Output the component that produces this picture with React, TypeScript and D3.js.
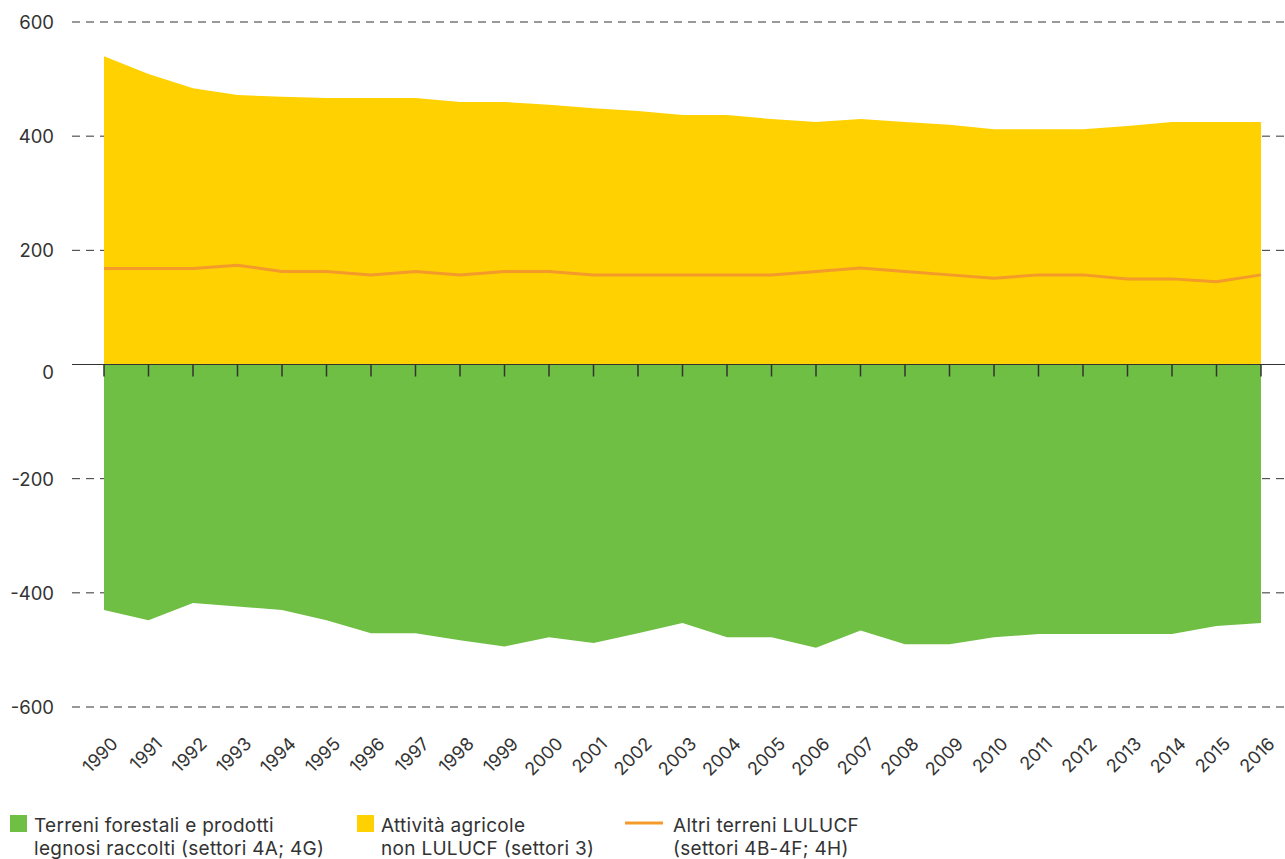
import React from "react";
import * as d3 from "d3";

const years = [1990, 1991, 1992, 1993, 1994, 1995, 1996, 1997, 1998, 1999, 2000, 2001, 2002, 2003, 2004, 2005, 2006, 2007, 2008, 2009, 2010, 2011, 2012, 2013, 2014, 2015, 2016];

// Attività agricole non LULUCF (settori 3)
const agricole = [540, 509, 484, 472, 469, 467, 467, 467, 460, 460, 455, 449, 444, 437, 437, 430, 425, 430, 425, 420, 412, 412, 412, 418, 425, 425, 425];

// Terreni forestali e prodotti legnosi raccolti (settori 4A; 4G)
const forestali = [-430, -448, -418, -424, -430, -448, -471, -471, -483, -494, -478, -488, -471, -453, -478, -478, -496, -466, -490, -490, -478, -472, -472, -472, -472, -458, -453];

// Altri terreni LULUCF (settori 4B-4F; 4H)
const altri = [168, 168, 168, 174, 163, 163, 157, 163, 157, 163, 163, 157, 157, 157, 157, 157, 163, 169, 163, 157, 151, 157, 157, 150, 150, 145, 157];

const yTicks = [600, 400, 200, 0, -200, -400, -600];

const legendItems = [
  { kind: "rect", color: "#6FBF44", lines: ["Terreni forestali e prodotti", "legnosi raccolti (settori 4A; 4G)"] },
  { kind: "rect", color: "#FFD100", lines: ["Attività agricole", "non LULUCF (settori 3)"] },
  { kind: "line", color: "#F39A2B", lines: ["Altri terreni LULUCF", "(settori 4B-4F; 4H)"] },
];

const W = 1285;
const H = 859;
const font = "Inter, 'Open Sans', sans-serif";
const ink = "#333333";

export default function App() {
  const x = d3.scaleLinear().domain([1990, 2016]).range([104, 1261]);
  const y = d3.scaleLinear().domain([-600, 600]).range([707, 22]);

  const areaTop = d3.area<number>()
    .x((_, i) => x(years[i]))
    .y0(y(0))
    .y1((d) => y(d))(agricole) as string;
  const areaBottom = d3.area<number>()
    .x((_, i) => x(years[i]))
    .y0(y(0))
    .y1((d) => y(d))(forestali) as string;
  const line = d3.line<number>()
    .x((_, i) => x(years[i]))
    .y((d) => y(d))(altri) as string;

  const legendX = [10, 357, 625];

  return (
    <svg width={W} height={H} style={{ position: "absolute", left: 0, top: 0, background: "#fff" }}>
      {yTicks.filter((t) => t !== 0).map((t) => (
        <line key={t} x1={72} x2={W} y1={y(t)} y2={y(t)} stroke={ink} strokeWidth={1} strokeDasharray="8,6" />
      ))}
      <path d={areaTop} fill="#FFD100" />
      <path d={areaBottom} fill="#6FBF44" />
      <path d={line} fill="none" stroke="#F39A2B" strokeWidth={3} />
      <line x1={72} x2={W} y1={y(0)} y2={y(0)} stroke={ink} strokeWidth={1.2} />
      {years.map((yr) => (
        <line key={yr} x1={x(yr)} x2={x(yr)} y1={y(0)} y2={y(0) + 12} stroke={ink} strokeWidth={1.5} />
      ))}
      {yTicks.map((t) => (
        <text key={t} x={54} y={y(t) + (t === 0 ? 14 : 7)} textAnchor="end" fontFamily={font} fontSize={18.5} fill={ink}>
          {t}
        </text>
      ))}
      {years.map((yr) => (
        <text
          key={yr}
          transform={`translate(${x(yr) + 15},${745}) rotate(-45)`}
          textAnchor="end"
          fontFamily={font}
          fontSize={18}
          fill={ink}
        >
          {yr}
        </text>
      ))}
      {legendItems.map((it, i) => (
        <g key={i} transform={`translate(${legendX[i]},815)`}>
          {it.kind === "rect" ? (
            <rect x={0} y={0} width={17} height={17} fill={it.color} />
          ) : (
            <line x1={0} x2={38} y1={8} y2={8} stroke={it.color} strokeWidth={3} />
          )}
          {it.lines.map((l, j) => (
            <text key={j} x={it.kind === "rect" ? 24 : 48} y={17 + j * 23} fontFamily={font} fontSize={19} letterSpacing={0.3} fill={ink}>
              {l}
            </text>
          ))}
        </g>
      ))}
    </svg>
  );
}
